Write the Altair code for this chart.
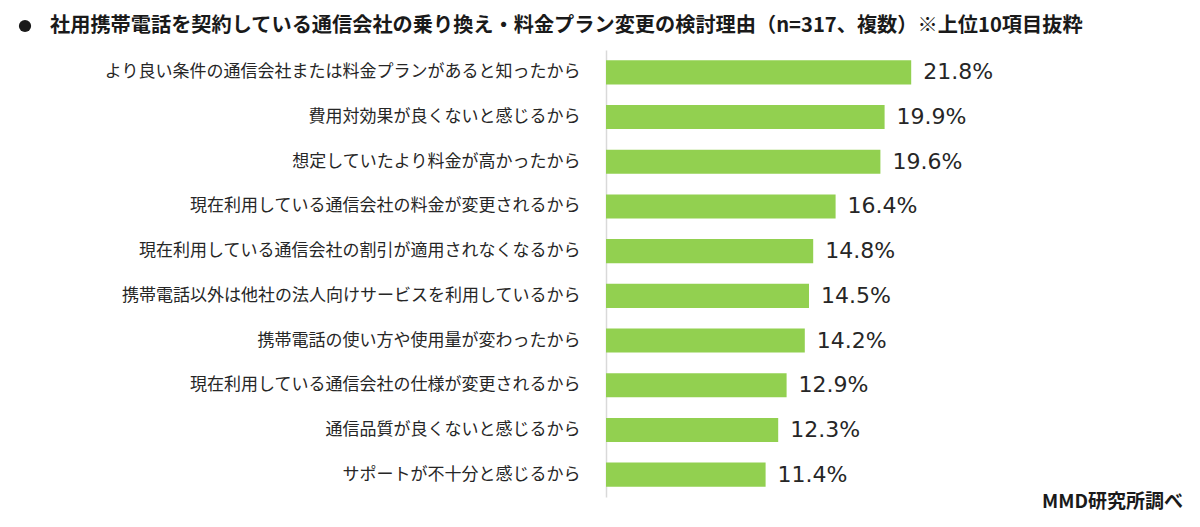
import altair as alt
import pandas as pd

reasons = [
    "より良い条件の通信会社または料金プランがあると知ったから",
    "費用対効果が良くないと感じるから",
    "想定していたより料金が高かったから",
    "現在利用している通信会社の料金が変更されるから",
    "現在利用している通信会社の割引が適用されなくなるから",
    "携帯電話以外は他社の法人向けサービスを利用しているから",
    "携帯電話の使い方や使用量が変わったから",
    "現在利用している通信会社の仕様が変更されるから",
    "通信品質が良くないと感じるから",
    "サポートが不十分と感じるから",
]
values = [21.8, 19.9, 19.6, 16.4, 14.8, 14.5, 14.2, 12.9, 12.3, 11.4]

title_text = "社用携帯電話を契約している通信会社の乗り換え・料金プラン変更の検討理由（n=317、複数）※上位10項目抜粋"
source_text = "MMD研究所調べ"

df = pd.DataFrame({"reason": reasons, "value": values})

JP = "Noto Sans CJK JP"
GREEN = "#92D050"

y_enc = alt.Y(
    "reason:N",
    sort=reasons,
    scale=alt.Scale(paddingInner=0.46, paddingOuter=0.23),
    axis=alt.Axis(
        title=None,
        ticks=False,
        labelFont=JP,
        labelFontSize=17,
        labelColor="#262626",
        labelPadding=26,
        labelLimit=0,
        domainColor="#D9D9D9",
        domainWidth=1.5,
    ),
)
x_enc = alt.X("value:Q", scale=alt.Scale(domain=[0, 30]), axis=None)

base = alt.Chart(df)

bars = base.mark_bar(color=GREEN).encode(x=x_enc, y=y_enc)

labels = base.transform_calculate(
    lbl="format(datum.value, '.1f') + '%'"
).mark_text(
    align="left", baseline="middle", dx=12, font="DejaVu Sans", fontSize=22, color="#262626"
).encode(x=x_enc, y=y_enc, text="lbl:N")

title = alt.Chart(alt.Data(values=[{"t": title_text}])).mark_text(
    align="left", baseline="middle", font=JP, fontSize=20.2, fontWeight="bold", color="#1a1a1a"
).encode(x=alt.value(-556), y=alt.value(-24), text="t:N")

bullet = alt.Chart(alt.Data(values=[{"b": 1}])).mark_point(
    filled=True, shape="circle", size=150, color="#1a1a1a", opacity=1
).encode(x=alt.value(-581), y=alt.value(-24))

source = alt.Chart(alt.Data(values=[{"s": source_text}])).mark_text(
    align="right", baseline="middle", font=JP, fontSize=19, fontWeight="bold", color="#1a1a1a"
).encode(x=alt.value(577), y=alt.value(452), text="s:N")

chart = alt.layer(bars, labels, title, bullet, source).properties(
    width=420,
    height=447,
    autosize=alt.AutoSizeParams(type="none"),
    padding={"left": 606, "top": 50, "right": 174, "bottom": 30},
    background="white",
).configure_view(stroke=None)

chart.save("out.html", embed_options={"renderer": "svg", "actions": False})
